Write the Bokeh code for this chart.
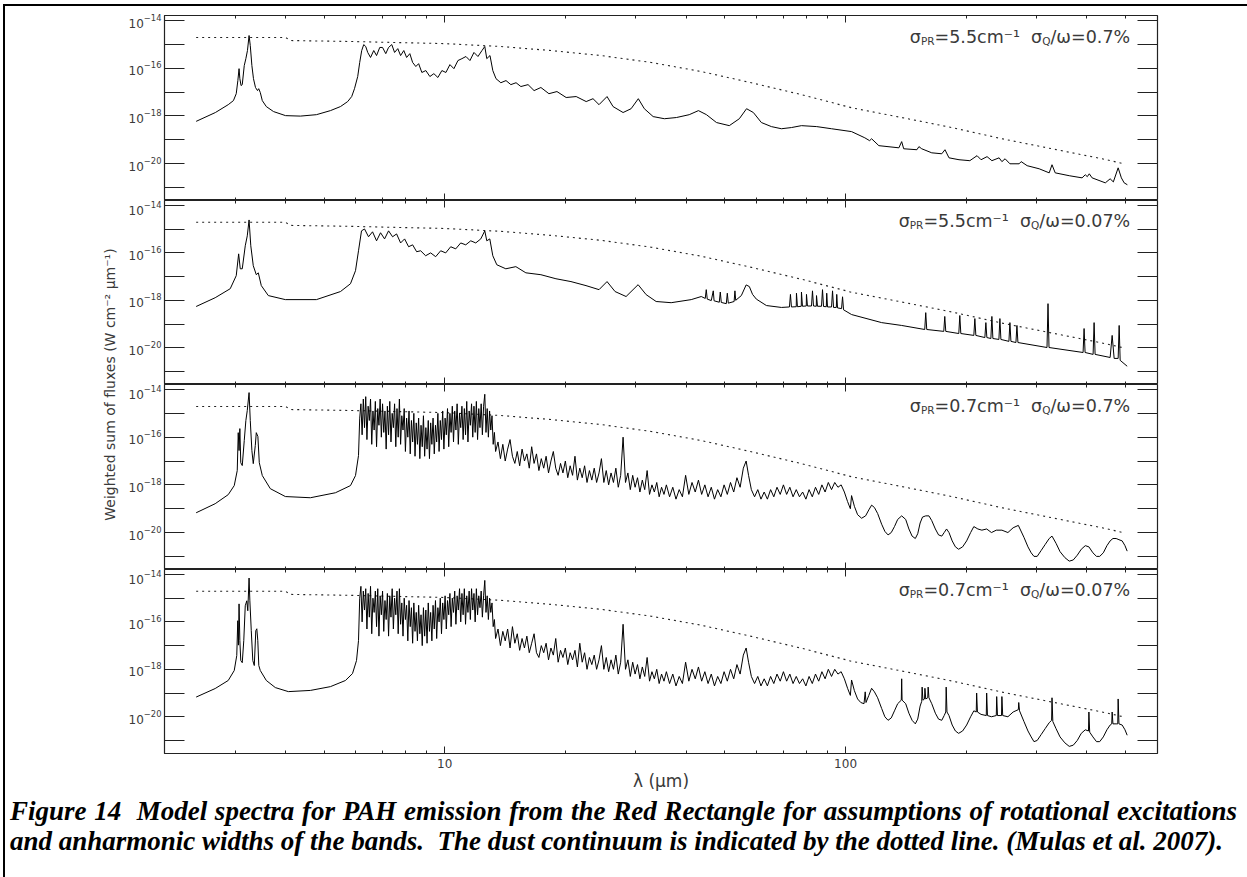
import numpy as np
from bokeh.plotting import figure
from bokeh.models import (Range1d, FixedTicker, LogAxis, LogTickFormatter,
                          BasicTickFormatter, Label, Div)
from bokeh.layouts import column, row
from bokeh.embed import file_html
from bokeh.resources import INLINE

# ---------------- data (log10 wavelength [um], log10 flux [W cm-2 um-1]) -------------
continuum = [(0.380, -14.71), (0.490, -14.71), (0.603, -14.71), (0.615, -14.84), (0.765, -14.88),
             (1.000, -14.97), (1.140, -15.09), (1.265, -15.26), (1.390, -15.47), (1.515, -15.76),
             (1.640, -16.14), (1.765, -16.61), (1.890, -17.11), (2.015, -17.66), (2.140, -18.07),
             (2.265, -18.49), (2.390, -18.96), (2.515, -19.38), (2.640, -19.80), (2.695, -20.01)]

spec_a = [(0.380, -18.23), (0.428, -17.86), (0.460, -17.53), (0.473, -17.36), (0.480, -17.07), (0.484, -16.52),
          (0.487, -16.02), (0.489, -16.44), (0.492, -16.73), (0.495, -16.69), (0.500, -15.89), (0.504, -15.60),
          (0.508, -15.26), (0.512, -14.63), (0.515, -15.05), (0.519, -15.89), (0.523, -16.44), (0.528, -16.81),
          (0.533, -16.94), (0.536, -16.86), (0.540, -17.02), (0.545, -17.36), (0.555, -17.61), (0.573, -17.82),
          (0.603, -17.99), (0.640, -18.01), (0.680, -17.95), (0.715, -17.78), (0.740, -17.61), (0.758, -17.40),
          (0.768, -17.19), (0.775, -16.86), (0.783, -16.35), (0.788, -15.76), (0.793, -15.26), (0.798, -15.01),
          (0.803, -15.09), (0.808, -15.34), (0.815, -15.55), (0.823, -15.26), (0.830, -15.47), (0.838, -15.13),
          (0.845, -15.13), (0.853, -15.39), (0.860, -15.13), (0.868, -15.01), (0.875, -15.34), (0.883, -15.18),
          (0.890, -15.47), (0.898, -15.26), (0.905, -15.55), (0.913, -15.39), (0.920, -15.76), (0.928, -15.93),
          (0.935, -15.81), (0.943, -16.18), (0.953, -16.10), (0.963, -16.35), (0.973, -16.23), (0.983, -16.39),
          (0.993, -16.10), (1.003, -16.18), (1.013, -15.85), (1.023, -16.02), (1.033, -15.68), (1.043, -15.60),
          (1.053, -15.51), (1.063, -15.68), (1.073, -15.34), (1.083, -15.51), (1.093, -15.26), (1.100, -15.09),
          (1.105, -15.60), (1.113, -15.47), (1.120, -16.10), (1.128, -16.44), (1.140, -16.61), (1.153, -16.52),
          (1.165, -16.69), (1.178, -16.61), (1.190, -16.77), (1.208, -16.69), (1.223, -16.94), (1.240, -16.81),
          (1.260, -17.07), (1.280, -16.98), (1.303, -17.23), (1.328, -17.19), (1.353, -17.40), (1.370, -17.28),
          (1.385, -17.53), (1.405, -17.19), (1.420, -17.61), (1.445, -17.86), (1.465, -17.70), (1.483, -17.28),
          (1.498, -17.70), (1.520, -18.03), (1.548, -18.12), (1.578, -18.07), (1.610, -17.95), (1.633, -17.78),
          (1.653, -17.95), (1.678, -18.28), (1.710, -18.41), (1.735, -18.12), (1.753, -17.70), (1.770, -17.86),
          (1.790, -18.28), (1.815, -18.45), (1.840, -18.54), (1.865, -18.49), (1.890, -18.41), (1.928, -18.45),
          (1.965, -18.54), (2.015, -18.66), (2.048, -18.92), (2.060, -19.04), (2.065, -18.96), (2.083, -19.25),
          (2.133, -19.34), (2.140, -19.08), (2.145, -19.38), (2.178, -19.42), (2.183, -19.29), (2.190, -19.38),
          (2.215, -19.55), (2.240, -19.59), (2.248, -19.42), (2.258, -19.76), (2.283, -19.84), (2.310, -19.88),
          (2.328, -19.67), (2.338, -19.84), (2.353, -19.71), (2.365, -19.88), (2.383, -19.76), (2.390, -19.92),
          (2.398, -19.80), (2.410, -20.01), (2.433, -20.01), (2.438, -19.92), (2.453, -20.09), (2.483, -20.22),
          (2.508, -20.39), (2.515, -20.05), (2.523, -20.39), (2.558, -20.51), (2.590, -20.60), (2.598, -20.47),
          (2.603, -20.55), (2.608, -20.43), (2.615, -20.60), (2.648, -20.81), (2.660, -20.64), (2.668, -20.77),
          (2.680, -20.18), (2.688, -20.60), (2.695, -20.81), (2.703, -20.89)]

spec_b = [(0.380, -18.26), (0.4275, -17.89), (0.465, -17.51), (0.480, -16.96), (0.486, -16.04), (0.490, -16.67),
          (0.495, -16.67), (0.5025, -15.70), (0.5075, -15.28), (0.512, -14.61), (0.5163, -15.70), (0.5225, -16.54),
          (0.530, -16.92), (0.535, -16.84), (0.5425, -17.38), (0.560, -17.80), (0.6025, -17.97), (0.680, -17.97),
          (0.740, -17.63), (0.765, -17.30), (0.7775, -16.75), (0.785, -15.91), (0.7925, -15.07), (0.800, -14.99),
          (0.810, -15.32), (0.820, -15.11), (0.830, -15.49), (0.840, -15.15), (0.850, -15.41), (0.860, -15.07),
          (0.870, -15.32), (0.880, -15.20), (0.890, -15.58), (0.900, -15.41), (0.910, -15.74), (0.920, -15.66),
          (0.930, -15.95), (0.940, -15.91), (0.9525, -16.12), (0.965, -16.00), (0.9775, -16.16), (0.990, -15.91),
          (1.0025, -16.00), (1.015, -15.74), (1.0275, -15.83), (1.040, -15.58), (1.0525, -15.66), (1.065, -15.49),
          (1.0775, -15.58), (1.090, -15.41), (1.100, -15.07), (1.105, -15.49), (1.1125, -15.41), (1.120, -16.12),
          (1.130, -16.50), (1.1525, -16.67), (1.1775, -16.58), (1.2025, -16.84), (1.240, -16.92), (1.2775, -17.09),
          (1.315, -17.21), (1.3525, -17.38), (1.385, -17.55), (1.405, -17.21), (1.425, -17.63), (1.4525, -17.84),
          (1.4825, -17.34), (1.5025, -17.76), (1.5275, -18.05), (1.565, -18.10), (1.615, -17.97), (1.640, -17.84),
          (1.650, -17.92), (1.6525, -17.55), (1.655, -17.95), (1.665, -18.01), (1.670, -17.60), (1.672, -18.02),
          (1.685, -18.08), (1.6875, -17.65), (1.690, -18.09), (1.7025, -18.14), (1.705, -17.70), (1.7075, -18.12),
          (1.722, -18.05), (1.724, -17.60), (1.726, -18.00), (1.740, -17.80), (1.752, -17.35), (1.760, -17.42),
          (1.768, -17.75), (1.7775, -17.95), (1.8025, -18.22), (1.840, -18.30), (1.860, -18.28), (1.8625, -17.75),
          (1.865, -18.28), (1.877, -18.27), (1.8775, -17.70), (1.880, -18.27), (1.8895, -18.25), (1.890, -17.65),
          (1.8925, -18.25), (1.902, -18.24), (1.9025, -17.75), (1.905, -18.24), (1.915, -18.24), (1.9175, -17.60),
          (1.920, -18.24), (1.927, -18.25), (1.9275, -17.80), (1.930, -18.25), (1.940, -18.25), (1.9425, -17.55),
          (1.945, -18.26), (1.952, -18.27), (1.953, -17.70), (1.955, -18.28), (1.965, -18.28), (1.9675, -17.60),
          (1.970, -18.30), (1.977, -18.30), (1.978, -17.75), (1.980, -18.32), (1.990, -18.35), (1.9925, -17.85),
          (1.995, -18.40), (2.015, -18.60), (2.090, -18.94),
          (2.140, -19.06), (2.1975, -19.23), (2.200, -18.52), (2.2025, -19.23), (2.245, -19.31), (2.2475, -18.68),
          (2.250, -19.31), (2.2825, -19.40), (2.285, -18.64), (2.2875, -19.40), (2.320, -19.48), (2.3225, -18.77),
          (2.325, -19.48), (2.3475, -19.57), (2.350, -18.94), (2.3525, -19.57), (2.3625, -19.61), (2.365, -18.68),
          (2.3675, -19.61), (2.3825, -19.65), (2.385, -18.77), (2.3875, -19.65), (2.4075, -19.73), (2.410, -18.94),
          (2.4125, -19.73), (2.425, -19.78), (2.4275, -19.06), (2.430, -19.78), (2.5025, -19.99), (2.505, -18.14),
          (2.5075, -19.99), (2.5925, -20.20), (2.595, -19.19), (2.5975, -20.20), (2.6175, -20.28), (2.620, -18.94),
          (2.6225, -20.28), (2.660, -20.41), (2.665, -19.48), (2.670, -20.45), (2.680, -20.45), (2.6825, -19.06),
          (2.685, -20.53), (2.7025, -20.78)]

# panel 3 (sigma_PR = 0.7, sigma_Q = 0.7 %)
c_near = [(0.380, -19.17), (0.4275, -18.79), (0.460, -18.41), (0.475, -18.03), (0.4825, -17.40), (0.485, -15.81),
          (0.487, -16.56), (0.489, -15.64), (0.4913, -17.07), (0.495, -17.19), (0.500, -16.14), (0.504, -15.30),
          (0.5075, -14.88), (0.512, -14.13), (0.515, -15.30), (0.519, -16.56), (0.5225, -17.11), (0.5275, -16.35),
          (0.530, -15.81), (0.534, -15.97), (0.5375, -17.07), (0.545, -17.61), (0.565, -18.16), (0.6025, -18.49),
          (0.665, -18.54), (0.7275, -18.33), (0.765, -18.03), (0.7775, -17.61), (0.785, -16.77)]
c_mid = [(0.788, -15.2), (0.791, -14.6), (0.794, -15.9), (0.797, -14.4), (0.800, -15.6), (0.803, -14.3),
         (0.806, -16.1), (0.809, -14.7), (0.812, -15.3), (0.815, -14.4), (0.818, -16.3), (0.821, -14.9),
         (0.824, -15.7), (0.827, -14.5), (0.830, -16.4), (0.833, -14.8), (0.836, -15.5), (0.839, -14.4),
         (0.842, -16.0), (0.845, -14.6), (0.848, -15.8), (0.851, -14.9), (0.854, -16.5), (0.857, -14.7),
         (0.860, -15.9), (0.863, -14.5), (0.866, -16.2), (0.869, -15.0), (0.872, -15.6), (0.875, -14.6),
         (0.878, -16.4), (0.881, -14.8), (0.884, -16.0), (0.887, -14.4), (0.890, -16.3), (0.893, -15.1),
         (0.896, -15.7), (0.899, -14.8), (0.902, -16.6), (0.905, -15.2), (0.908, -16.0), (0.911, -14.9),
         (0.914, -16.7), (0.917, -15.3), (0.920, -16.2), (0.923, -15.0), (0.926, -16.8), (0.929, -15.4),
         (0.932, -16.3), (0.935, -15.2), (0.938, -16.9), (0.941, -15.5), (0.944, -16.4), (0.947, -15.1),
         (0.950, -16.8), (0.953, -15.6), (0.956, -16.5), (0.959, -15.3), (0.962, -16.9), (0.965, -15.4),
         (0.968, -16.3), (0.971, -15.2), (0.974, -16.7), (0.977, -15.5), (0.980, -16.2), (0.983, -15.0),
         (0.986, -16.6), (0.989, -15.3), (0.992, -16.1), (0.995, -14.9), (0.998, -16.5), (1.001, -15.2),
         (1.004, -15.9), (1.007, -14.8), (1.010, -16.4), (1.013, -15.0), (1.016, -15.8), (1.019, -14.7),
         (1.022, -16.2), (1.025, -14.9), (1.028, -15.7), (1.031, -14.6), (1.034, -16.3), (1.037, -15.0),
         (1.040, -15.6), (1.043, -14.7), (1.046, -16.1), (1.049, -14.8), (1.052, -15.9), (1.055, -14.5),
         (1.058, -16.2), (1.061, -14.9), (1.064, -15.5), (1.067, -14.6), (1.070, -16.0), (1.073, -14.7),
         (1.076, -15.8), (1.079, -14.5), (1.082, -16.1), (1.085, -14.8), (1.088, -15.6), (1.091, -14.6),
         (1.094, -15.9), (1.097, -14.7), (1.100, -14.2), (1.103, -15.8), (1.106, -14.8), (1.109, -16.0),
         (1.112, -14.9), (1.115, -15.7), (1.118, -15.1), (1.121, -16.3), (1.124, -15.8), (1.127, -16.6)]
c_post = [(1.133, -16.2), (1.139, -16.9), (1.145, -16.3), (1.151, -17.0), (1.157, -16.5), (1.163, -16.1),
          (1.169, -16.8), (1.175, -17.1), (1.181, -16.6), (1.187, -17.2), (1.193, -16.5), (1.199, -17.0),
          (1.205, -16.7), (1.211, -17.3), (1.217, -16.4), (1.223, -17.1), (1.229, -16.7), (1.235, -17.4),
          (1.241, -16.9), (1.247, -17.3), (1.253, -16.8), (1.259, -17.5), (1.265, -17.0), (1.271, -16.6),
          (1.277, -17.3), (1.283, -17.6), (1.289, -17.1), (1.295, -17.5), (1.301, -17.0), (1.307, -17.7),
          (1.313, -17.2), (1.319, -17.6), (1.325, -16.8), (1.331, -17.8), (1.337, -17.3), (1.343, -17.7),
          (1.349, -17.2), (1.355, -17.9), (1.361, -17.4), (1.367, -17.8), (1.373, -17.3), (1.379, -17.9),
          (1.385, -17.5), (1.391, -16.9), (1.397, -17.9), (1.403, -17.4), (1.409, -18.0), (1.415, -17.5),
          (1.421, -17.9), (1.427, -17.3), (1.433, -18.1), (1.439, -17.6), (1.445, -16.0), (1.451, -17.9),
          (1.457, -17.5), (1.463, -18.2), (1.469, -17.6), (1.475, -18.1), (1.481, -17.7), (1.487, -18.3),
          (1.493, -17.8), (1.499, -18.2), (1.505, -17.4), (1.511, -18.4), (1.517, -18.0), (1.523, -18.3),
          (1.529, -17.9), (1.535, -18.5), (1.541, -18.1), (1.547, -18.4), (1.553, -18.0), (1.561, -18.5),
          (1.569, -18.1), (1.577, -18.6), (1.585, -18.2), (1.593, -18.5), (1.601, -17.6), (1.609, -18.4),
          (1.617, -17.9), (1.625, -18.3), (1.633, -17.8), (1.641, -18.4), (1.649, -18.0), (1.657, -18.5),
          (1.665, -18.1), (1.673, -18.6), (1.681, -18.2), (1.689, -18.5), (1.697, -18.0), (1.705, -18.4),
          (1.713, -17.9), (1.721, -18.3), (1.729, -17.7), (1.737, -18.1), (1.745, -17.3), (1.752, -17.0),
          (1.758, -17.6), (1.765, -18.2), (1.773, -18.5), (1.781, -18.2), (1.789, -18.6), (1.797, -18.3),
          (1.805, -18.6), (1.813, -18.2), (1.821, -18.5), (1.829, -18.1), (1.837, -18.4), (1.845, -18.0),
          (1.853, -18.4), (1.861, -18.1), (1.869, -18.5), (1.877, -18.2), (1.885, -18.5), (1.893, -18.3),
          (1.901, -18.6), (1.909, -18.2), (1.917, -18.5), (1.925, -18.1), (1.933, -18.4), (1.941, -18.0),
          (1.949, -18.3), (1.957, -17.9), (1.965, -18.2), (1.973, -17.9), (1.981, -18.1), (1.989, -18.0),
          (1.997, -18.3), (2.005, -18.7), (2.012, -19.0)]
c_far = [(2.015, -18.45), (2.022, -18.90), (2.030, -19.25), (2.040, -19.40), (2.050, -19.30), (2.058, -19.05),
         (2.065, -18.85), (2.072, -18.95), (2.080, -19.20), (2.090, -19.65), (2.098, -19.95), (2.106, -20.10),
         (2.114, -20.00), (2.122, -19.75), (2.130, -19.45), (2.140, -19.30), (2.150, -19.45), (2.158, -19.85),
         (2.166, -20.15), (2.174, -20.25), (2.180, -20.05), (2.186, -19.60), (2.192, -19.35), (2.200, -19.30),
         (2.208, -19.30), (2.215, -19.50), (2.224, -19.85), (2.232, -20.10), (2.240, -20.15), (2.246, -20.00),
         (2.252, -19.85), (2.258, -20.00), (2.266, -20.35), (2.274, -20.60), (2.282, -20.70), (2.292, -20.60),
         (2.302, -20.35), (2.312, -20.00), (2.320, -19.75), (2.330, -19.85), (2.340, -19.90), (2.352, -19.85),
         (2.364, -20.00), (2.376, -19.90), (2.390, -19.90), (2.405, -20.00), (2.418, -19.80), (2.431, -19.70),
         (2.445, -20.20), (2.455, -20.60), (2.463, -20.85), (2.470, -21.00), (2.478, -21.00), (2.488, -20.75),
         (2.498, -20.50), (2.508, -20.25), (2.515, -20.15), (2.525, -20.45), (2.535, -20.80), (2.547, -21.05),
         (2.558, -21.20), (2.568, -21.15), (2.578, -20.95), (2.588, -20.70), (2.598, -20.55), (2.607, -20.60),
         (2.617, -20.85), (2.626, -21.00), (2.634, -21.00), (2.643, -20.85), (2.652, -20.55), (2.660, -20.35),
         (2.667, -20.25), (2.675, -20.25), (2.682, -20.30), (2.690, -20.35), (2.697, -20.55), (2.7025, -20.78)]

# panel 4 (sigma_PR = 0.7, sigma_Q = 0.07 %)
d_near = [(0.380, -19.17), (0.4275, -18.81), (0.460, -18.47), (0.475, -18.05), (0.4813, -17.42), (0.4838, -15.95),
          (0.4855, -16.98), (0.487, -15.24), (0.489, -16.79), (0.4913, -17.63), (0.495, -17.72), (0.4988, -16.79),
          (0.5025, -15.32), (0.5063, -15.11), (0.5088, -15.53), (0.512, -14.15), (0.514, -15.11), (0.5175, -16.37),
          (0.5213, -17.63), (0.525, -17.84), (0.5288, -16.37), (0.5313, -16.29), (0.5338, -16.79), (0.5363, -17.84),
          (0.540, -18.05), (0.555, -18.47), (0.5775, -18.77), (0.610, -18.94), (0.665, -18.89), (0.715, -18.73),
          (0.7525, -18.47), (0.770, -18.18), (0.780, -17.63), (0.785, -16.79)]
d_mid = [(0.788, -15.0), (0.791, -14.5), (0.794, -16.0), (0.797, -14.7), (0.800, -15.5), (0.803, -14.6),
         (0.806, -16.3), (0.809, -14.8), (0.812, -15.8), (0.815, -14.5), (0.818, -16.5), (0.821, -15.0),
         (0.824, -15.6), (0.827, -14.7), (0.830, -16.2), (0.833, -14.6), (0.836, -16.6), (0.839, -14.9),
         (0.842, -15.7), (0.845, -14.7), (0.848, -16.4), (0.851, -15.1), (0.854, -15.9), (0.857, -14.8),
         (0.860, -16.6), (0.863, -14.9), (0.866, -15.8), (0.869, -14.6), (0.872, -16.3), (0.875, -15.0),
         (0.878, -15.7), (0.881, -14.7), (0.884, -16.5), (0.887, -14.6), (0.890, -16.1), (0.893, -15.2),
         (0.896, -16.6), (0.899, -15.0), (0.902, -15.9), (0.905, -15.3), (0.908, -16.8), (0.911, -15.1),
         (0.914, -16.2), (0.917, -15.4), (0.920, -16.9), (0.923, -15.2), (0.926, -16.4), (0.929, -15.6),
         (0.932, -16.8), (0.935, -15.3), (0.938, -16.5), (0.941, -15.7), (0.944, -17.0), (0.947, -15.4),
         (0.950, -16.6), (0.953, -15.5), (0.956, -16.9), (0.959, -15.2), (0.962, -16.4), (0.965, -15.6),
         (0.968, -16.8), (0.971, -15.3), (0.974, -16.3), (0.977, -15.1), (0.980, -16.7), (0.983, -15.4),
         (0.986, -16.0), (0.989, -15.0), (0.992, -16.5), (0.995, -15.2), (0.998, -15.9), (1.001, -14.9),
         (1.004, -16.3), (1.007, -15.1), (1.010, -15.7), (1.013, -14.8), (1.016, -16.2), (1.019, -15.0),
         (1.022, -15.6), (1.025, -14.7), (1.028, -16.1), (1.031, -14.9), (1.034, -15.5), (1.037, -14.6),
         (1.040, -16.0), (1.043, -14.8), (1.046, -15.7), (1.049, -14.6), (1.052, -16.1), (1.055, -14.9),
         (1.058, -15.6), (1.061, -14.7), (1.064, -15.9), (1.067, -14.6), (1.070, -15.5), (1.073, -14.8),
         (1.076, -16.0), (1.079, -14.6), (1.082, -15.7), (1.085, -14.9), (1.088, -15.4), (1.091, -14.7),
         (1.094, -15.8), (1.097, -14.9), (1.100, -14.25), (1.103, -15.6), (1.106, -14.9), (1.109, -15.9),
         (1.112, -15.0), (1.115, -15.6), (1.118, -15.2), (1.121, -16.2), (1.124, -15.9), (1.127, -16.7)]
d_post = [(1.133, -16.3), (1.139, -17.0), (1.145, -16.4), (1.151, -16.8), (1.157, -16.3), (1.163, -17.1),
          (1.169, -16.2), (1.175, -16.9), (1.181, -16.5), (1.187, -17.2), (1.193, -16.7), (1.199, -17.1),
          (1.205, -16.6), (1.211, -17.3), (1.217, -16.9), (1.223, -16.5), (1.229, -17.3), (1.235, -17.5),
          (1.241, -17.0), (1.247, -17.3), (1.253, -16.9), (1.259, -17.6), (1.265, -17.1), (1.271, -17.4),
          (1.277, -16.7), (1.283, -17.7), (1.289, -17.2), (1.295, -17.5), (1.301, -17.1), (1.307, -17.8),
          (1.313, -17.3), (1.319, -17.6), (1.325, -17.2), (1.331, -17.9), (1.337, -16.9), (1.343, -17.7),
          (1.349, -17.3), (1.355, -18.0), (1.361, -17.5), (1.367, -17.8), (1.373, -17.4), (1.379, -18.0),
          (1.385, -17.6), (1.391, -17.0), (1.397, -18.0), (1.403, -17.5), (1.409, -18.1), (1.415, -17.6),
          (1.421, -18.0), (1.427, -17.4), (1.433, -18.2), (1.439, -17.7), (1.445, -16.1), (1.451, -18.0),
          (1.457, -17.6), (1.463, -18.3), (1.469, -17.7), (1.475, -18.2), (1.481, -17.8), (1.487, -18.4),
          (1.493, -17.9), (1.499, -18.3), (1.505, -17.5), (1.511, -18.5), (1.517, -18.1), (1.523, -18.4),
          (1.529, -18.0), (1.535, -18.6), (1.541, -18.2), (1.547, -18.5), (1.553, -18.1), (1.561, -18.6),
          (1.569, -18.2), (1.577, -18.7), (1.585, -18.3), (1.593, -18.6), (1.601, -17.7), (1.609, -18.5),
          (1.617, -18.0), (1.625, -18.4), (1.633, -17.9), (1.641, -18.5), (1.649, -18.1), (1.657, -18.6),
          (1.665, -18.2), (1.673, -18.7), (1.681, -18.3), (1.689, -18.6), (1.697, -18.1), (1.705, -18.5),
          (1.713, -18.0), (1.721, -18.4), (1.729, -17.8), (1.737, -18.2), (1.745, -17.4), (1.752, -17.1),
          (1.758, -17.7), (1.765, -18.3), (1.773, -18.6), (1.781, -18.3), (1.789, -18.7), (1.797, -18.4),
          (1.805, -18.7), (1.813, -18.3), (1.821, -18.6), (1.829, -18.2), (1.837, -18.5), (1.845, -18.1),
          (1.853, -18.5), (1.861, -18.2), (1.869, -18.6), (1.877, -18.3), (1.885, -18.6), (1.893, -18.4),
          (1.901, -18.7), (1.909, -18.3), (1.917, -18.6), (1.925, -18.2), (1.933, -18.5), (1.941, -18.1),
          (1.949, -18.4), (1.957, -18.0), (1.965, -18.3), (1.973, -18.0), (1.981, -18.2), (1.989, -18.1),
          (1.997, -18.4), (2.005, -18.8), (2.012, -19.1)]
d_far = [(2.015, -18.45), (2.022, -18.90), (2.030, -19.25), (2.038, -19.40), (2.046, -19.45), (2.049, -18.95),
         (2.051, -19.40), (2.058, -19.10), (2.065, -18.80), (2.072, -18.95), (2.080, -19.20), (2.090, -19.65),
         (2.098, -20.00), (2.106, -20.15), (2.114, -20.05), (2.122, -19.75), (2.130, -19.45), (2.139, -19.30),
         (2.140, -18.40), (2.141, -19.30), (2.150, -19.45), (2.158, -19.85), (2.166, -20.15), (2.174, -20.30),
         (2.180, -20.10), (2.186, -19.55), (2.190, -19.35), (2.191, -18.75), (2.193, -19.30), (2.197, -19.25),
         (2.198, -18.80), (2.200, -19.25), (2.205, -19.20), (2.206, -18.75), (2.208, -19.20), (2.215, -19.45),
         (2.224, -19.85), (2.232, -20.10), (2.240, -20.15), (2.246, -19.95), (2.250, -19.80), (2.251, -18.75),
         (2.253, -19.80), (2.258, -19.95), (2.266, -20.35), (2.274, -20.60), (2.282, -20.70), (2.292, -20.60),
         (2.302, -20.35), (2.312, -20.00), (2.320, -19.75), (2.326, -19.80), (2.327, -19.00), (2.329, -19.80),
         (2.338, -19.90), (2.351, -19.95), (2.352, -19.00), (2.354, -19.95), (2.364, -20.00), (2.376, -19.95),
         (2.377, -19.15), (2.379, -19.95), (2.389, -19.95), (2.390, -19.15), (2.392, -19.95), (2.405, -20.00),
         (2.418, -19.80), (2.431, -19.70), (2.432, -19.40), (2.434, -19.75), (2.445, -20.20), (2.455, -20.60),
         (2.463, -20.85), (2.470, -21.05), (2.478, -21.00), (2.488, -20.75), (2.498, -20.50), (2.508, -20.25),
         (2.514, -20.15), (2.515, -19.20), (2.517, -20.20), (2.525, -20.50), (2.535, -20.85), (2.547, -21.10),
         (2.558, -21.25), (2.568, -21.20), (2.578, -21.00), (2.588, -20.70), (2.598, -20.55), (2.606, -20.60),
         (2.607, -19.80), (2.609, -20.65), (2.617, -20.85), (2.626, -21.05), (2.634, -21.05), (2.643, -20.85),
         (2.652, -20.55), (2.660, -20.35), (2.664, -20.30), (2.665, -19.80), (2.667, -20.30), (2.675, -20.30),
         (2.679, -20.30), (2.680, -19.25), (2.682, -20.30), (2.690, -20.35), (2.697, -20.55), (2.7025, -20.78)]

spec_c = c_near + c_mid + c_post + c_far
spec_d = d_near + d_mid + d_post + d_far

spectra = [spec_a, spec_b, spec_c, spec_d]
sigma_pr = ["5.5", "5.5", "0.7", "0.7"]
sigma_q = ["0.7", "0.07", "0.7", "0.07"]

x_major = [10, 100]
x_minor = [2, 3, 4, 5, 6, 7, 8, 9, 20, 30, 40, 50, 60, 70, 80, 90, 200, 300, 400, 500]
y_major = [1e-20, 1e-18, 1e-16, 1e-14]
y_minor = [1e-21, 1e-19, 1e-17, 1e-15]

caption_lines = [
    "Figure 14&nbsp; Model spectra for PAH emission from the Red Rectangle for assumptions of rotational excitations",
    "and anharmonic widths of the bands.&nbsp; The dust continuum is indicated by the dotted line. (Mulas et al. 2007).",
]
y_title = "Weighted sum of fluxes (W cm\u207b\u00b2 \u03bcm\u207b\u00b9)"
x_title = "\u03bb (\u03bcm)"

# ---------------- layout constants -------------
X_MIN, X_MAX = 2.0, 600.0
LOG_TOP, LOG_BOT = -13.79, -21.55
FRAME_W = 993
FRAME_H = [185, 184, 185, 184]
LEFT, RIGHT = 39, 81
LAB_W = 120
BOTTOM = 44
INK = "#222222"
TXT = "#3a3a3a"
FONT = "DejaVu Sans"
INNER_W = LAB_W + LEFT + FRAME_W + RIGHT

xr = Range1d(X_MIN, X_MAX)

# DejaVu Sans advance widths (em)
DV = {'\u03c3': 0.634, '\u03c9': 0.84, '/': 0.337, '=': 0.838, '.': 0.318, '%': 0.95, 'c': 0.55,
      'm': 0.974, '\u207b': 0.53, '\u00b9': 0.40, ' ': 0.318, 'P': 0.603, 'R': 0.695, 'Q': 0.787}


def tw(s, size):
    return sum(DV.get(ch, 0.636) for ch in s) * size


def tick_axis(ax, minor, length):
    ax.ticker = FixedTicker(ticks=[], minor_ticks=minor)
    ax.minor_tick_in = length
    ax.minor_tick_out = 0
    ax.major_tick_in = 0
    ax.major_tick_out = 0
    ax.minor_tick_line_color = INK
    ax.axis_line_color = None
    ax.major_label_standoff = 0


def make_panel(i):
    last = i == 3
    p = figure(x_axis_type="log", y_axis_type="log", x_range=xr,
               y_range=Range1d(10 ** LOG_BOT, 10 ** LOG_TOP),
               frame_width=FRAME_W, frame_height=FRAME_H[i],
               min_border_left=LEFT, min_border_right=RIGHT,
               min_border_top=9 if i == 0 else 0, min_border_bottom=BOTTOM if last else 0,
               output_backend="svg", toolbar_location=None,
               background_fill_color="white", border_fill_color="white")
    p.grid.visible = False
    p.outline_line_color = INK
    p.outline_line_width = 1.2

    xb = p.below[0]
    ya = p.left[0]

    ya.ticker = FixedTicker(ticks=y_major, minor_ticks=y_minor)
    ya.formatter = LogTickFormatter()
    ya.major_tick_in = 20
    ya.major_tick_out = 0
    ya.minor_tick_in = 20
    ya.minor_tick_out = 0
    ya.major_tick_line_color = INK
    ya.minor_tick_line_color = INK
    ya.axis_line_color = None
    ya.major_label_text_font = FONT
    ya.major_label_text_font_size = "12px"
    ya.major_label_text_color = TXT
    ya.major_label_standoff = 3

    yr = LogAxis()
    p.add_layout(yr, "right")
    tick_axis(yr, y_major + y_minor, 20)

    xt1 = LogAxis()
    xt2 = LogAxis()
    p.add_layout(xt1, "above")
    p.add_layout(xt2, "above")
    tick_axis(xt1, x_minor, 3)
    tick_axis(xt2, x_major, 7)

    if last:
        xb.ticker = FixedTicker(ticks=x_major, minor_ticks=x_minor)
        xb.formatter = BasicTickFormatter()
        xb.major_tick_in = 7
        xb.major_tick_out = 0
        xb.minor_tick_in = 3
        xb.minor_tick_out = 0
        xb.major_tick_line_color = INK
        xb.minor_tick_line_color = INK
        xb.axis_line_color = None
        xb.major_label_text_font = FONT
        xb.major_label_text_font_size = "12px"
        xb.major_label_text_color = TXT
        xb.major_label_standoff = 5
        xb.axis_label = x_title
        xb.axis_label_text_font = FONT
        xb.axis_label_text_font_size = "17px"
        xb.axis_label_text_font_style = "normal"
        xb.axis_label_text_color = TXT
        xb.axis_label_standoff = 0
    else:
        tick_axis(xb, x_minor, 3)
        xb2 = LogAxis()
        p.add_layout(xb2, "below")
        tick_axis(xb2, x_major, 7)

    lam_c = [10 ** a for a, _ in continuum]
    f_c = [10 ** b for _, b in continuum]
    p.line(lam_c, f_c, line_color=INK, line_width=1.1, line_dash="2 4")

    lam = [10 ** a for a, _ in spectra[i]]
    fl = [10 ** b for _, b in spectra[i]]
    p.line(lam, fl, line_color="black", line_width=1.0)

    # annotation  sigma_PR=...cm^-1  sigma_Q/omega=...%
    big, small = 17.5, 10.5
    pieces = [("\u03c3", big, 0), ("PR", small, 1),
              ("=" + sigma_pr[i] + "cm\u207b\u00b9", big, 0), ("  ", big, -1),
              ("\u03c3", big, 0), ("Q", small, 1),
              ("/\u03c9=" + sigma_q[i] + "%", big, 0)]
    total = sum(tw(t, s) for t, s, _ in pieces)
    x_right = 10 ** ((1128 - 44) / 400)
    base = LOG_TOP - 21 * 0.042
    off = -total
    for t, s, kind in pieces:
        if kind >= 0:
            yv = 10 ** (base - (0.17 if kind == 1 else 0.0))
            p.add_layout(Label(x=x_right, y=yv, x_offset=off, text=t, text_font=FONT,
                               text_font_size=f"{s}px", text_color=TXT,
                               text_align="left", text_baseline="alphabetic"))
        off += tw(t, s)
    return p


panels = [make_panel(i) for i in range(4)]
stack_h = 9 + sum(FRAME_H) + BOTTOM

lab = figure(width=LAB_W, height=stack_h, x_range=Range1d(0, LAB_W), y_range=Range1d(0, stack_h),
             x_axis_location=None, y_axis_location=None, min_border=0,
             output_backend="svg", toolbar_location=None)
lab.outline_line_color = None
lab.grid.visible = False
lab.add_layout(Label(x=104, y=stack_h - 378, text=y_title, angle=np.pi / 2,
                     text_font=FONT, text_font_size="14px", text_color=TXT,
                     text_align="center", text_baseline="middle"))

cap_style = ("font-family:'Liberation Serif','Times New Roman',serif;font-weight:bold;"
             "font-style:italic;font-size:27px;line-height:30px;color:#000;")
cap_html = ("<div style=\"" + cap_style + "padding:0;margin:-6px 0 0 0;\">"
            "<div style=\"width:1227px;text-align:justify;text-align-last:justify;white-space:nowrap;\">"
            + caption_lines[0] + "</div>"
            "<div style=\"white-space:nowrap;\">" + caption_lines[1] + "</div></div>")
cap = Div(text=cap_html, width=INNER_W, height=73)

stack = column(*panels, spacing=0)
layout = column(row(lab, stack, spacing=0), cap, spacing=0,
                styles={"border": "2px solid #000", "margin-left": "3px", "margin-top": "4px"})

open("out.html", "w").write(file_html(layout, INLINE, "PAH spectra"))
